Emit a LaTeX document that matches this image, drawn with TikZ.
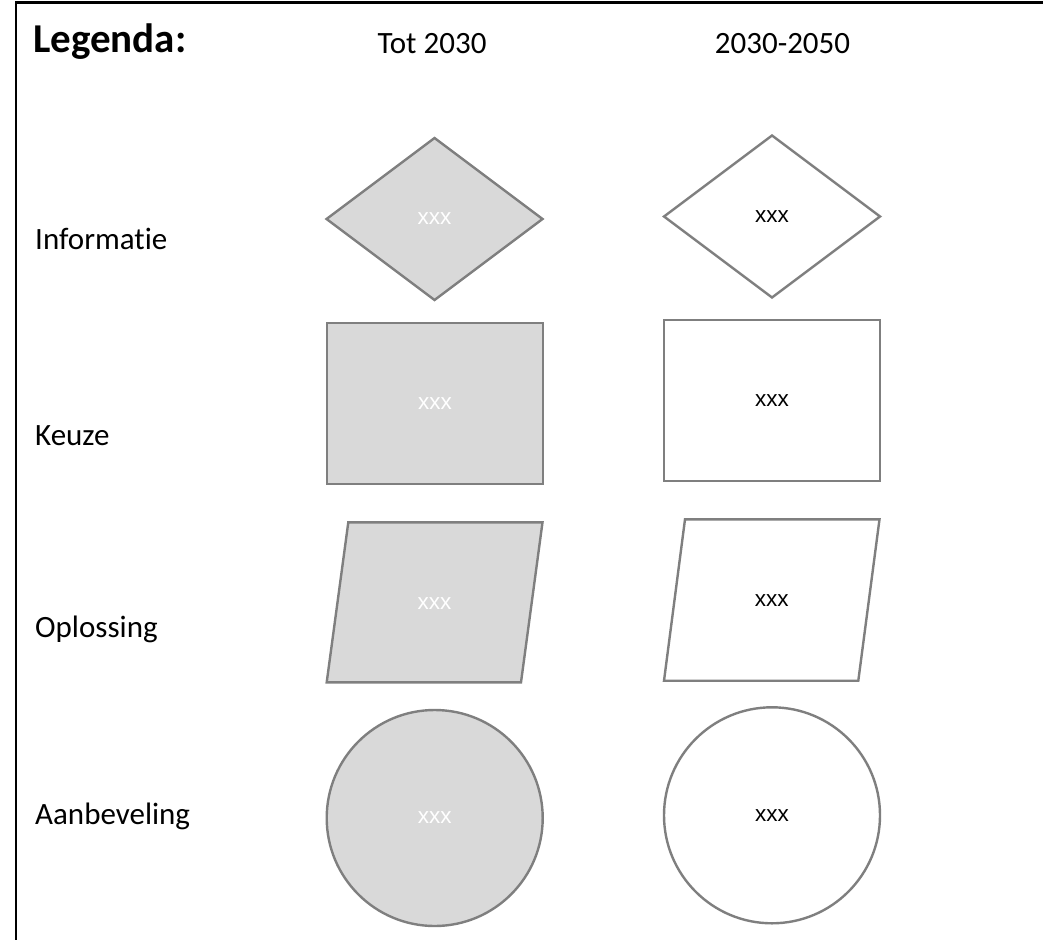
\documentclass[tikz,border=0pt]{standalone}
\usepackage{fontspec}
\setmainfont{Carlito}[Ligatures={NoCommon}]
\newfontfamily\xfont{Liberation Sans}
\usetikzlibrary{shapes.geometric}
\definecolor{edgegray}{HTML}{7F7F7F}
\definecolor{fillgray}{HTML}{D9D9D9}
\tikzset{
  shp/.style={draw=edgegray, line width=2.4pt, inner sep=0pt, outer sep=0pt},
  dark/.style={shp, fill=fillgray, text=white},
  light/.style={shp, fill=white, text=black},
  xxx/.style={font=\xfont\fontsize{22.5}{26}\selectfont, inner sep=0pt},
  dia/.style={diamond, minimum width=216pt, minimum height=162pt},
  box/.style={rectangle, minimum width=216pt, minimum height=161pt},
  circ/.style={circle, minimum size=216pt},
  rowlbl/.style={anchor=base west, inner sep=0pt, font=\fontsize{31}{36}\selectfont},
  collbl/.style={anchor=base, inner sep=0pt, font=\fontsize{31}{36}\selectfont},
}
\begin{document}
\begin{tikzpicture}[x=1pt,y=-1pt]
\useasboundingbox (0,0) rectangle (1043,939);
\begin{scope}
\clip (0,0) rectangle (1043,939);
\draw[line width=2.6pt] (15.8,2.5) rectangle (1100,1000);
\end{scope}
% headings
\node[anchor=base west, inner sep=0pt, font=\bfseries\fontsize{41}{48}\selectfont] (leg) at (33,53) {Legenda:};
\node[collbl] (c1) at (432,54) {Tot 2030};
\node[collbl] (c2) at (782.5,53.5) {2030-2050};
% row labels
\node[rowlbl] (r1) at (35,249) {Informatie};
\node[rowlbl] (r2) at (35,445) {Keuze};
\node[rowlbl] (r3) at (35,637) {Oplossing};
\node[rowlbl] (r4) at (35,824) {Aanbeveling};
% Informatie
\node[dark, dia, xxx] (d1) at (434.5,219) {xxx};
\node[light, dia, xxx] (d2) at (772,216.5) {xxx};
% Keuze
\node[dark, box, xxx] (b1) at (435,403.5) {xxx};
\node[light, box, xxx] (b2) at (772,400.5) {xxx};
% Oplossing
\draw[shp, fill=fillgray] (348.3,522.3) -- (542.5,522.3) -- (521,682.3) -- (326.7,682.3) -- cycle;
\node[xxx, text=white] (p1) at (434.6,604) {xxx};
\draw[shp, fill=white] (685,519.3) -- (879.5,519.3) -- (858.3,680.7) -- (664,680.7) -- cycle;
\node[xxx, text=black] (p2) at (771.8,601) {xxx};
% Aanbeveling
\node[dark, circ, xxx] (a1) at (434.7,818) {xxx};
\node[light, circ, xxx] (a2) at (772,815.3) {xxx};
\end{tikzpicture}
\end{document}
